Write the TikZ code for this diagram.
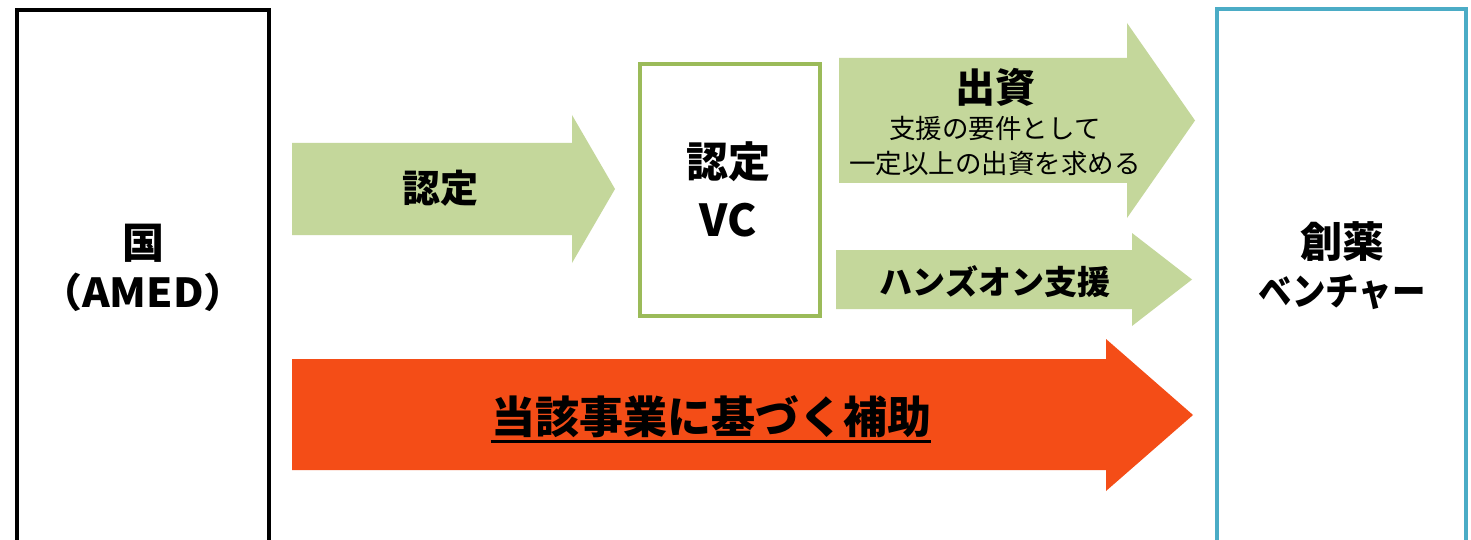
\documentclass[tikz,border=0pt]{standalone}
\usepackage{fontspec}
\setmainfont{Noto Sans CJK JP}
\definecolor{arrowgreen}{HTML}{C4D79B}
\definecolor{vcgreen}{HTML}{9BBB59}
\definecolor{subsidy}{HTML}{F44D17}
\definecolor{ventureblue}{HTML}{4BACC6}
\newcommand\blockarrow[8]{%
  \fill[#1] (#2,#5) -- (#3,#5) -- (#3,#7) -- (#4,{(#7+#8)/2}) -- (#3,#8) -- (#3,#6) -- (#2,#6) -- cycle;}
\tikzset{
  frame/.style={draw, inner sep=0pt, outer sep=0pt, fill=none},
  txt/.style={font=\fontsize{#1}{#1}\selectfont\bfseries, inner sep=0pt},
  smalltext/.style={font=\fontsize{26.5}{30}\selectfont, inner sep=0pt},
}
\begin{document}
\begin{tikzpicture}[x=1pt,y=-1pt]
\useasboundingbox (0,0) rectangle (1471,540);
\clip (0,0) rectangle (1471,540);
\fill[white] (0,0) rectangle (1471,540);
% boxes
\node[frame, draw=black, line width=4pt, minimum width=252pt, minimum height=590pt] (kuni) at (143,305) {};
\node[frame, draw=vcgreen, line width=4pt, minimum width=180pt, minimum height=252pt] (vc) at (729.5,190) {};
\node[frame, draw=ventureblue, line width=3.5pt, minimum width=249pt, minimum height=591pt] (venture) at (1341.5,304.5) {};
% arrows
\blockarrow{arrowgreen}{292}{572}{615}{143}{235}{115}{263}
\blockarrow{arrowgreen}{839}{1127}{1195}{58}{183}{23}{218}
\blockarrow{arrowgreen}{836}{1132}{1192}{250}{309}{233}{326}
\blockarrow{subsidy}{292}{1106}{1193}{359}{470}{339}{491}
% texts
\node[txt=42] (kuni1) at (143,243) {国};
\node[txt=40] (kuni2) at (143,292) {\scalebox{1.05}[1]{（AMED）}};
\node[txt=38] (nintei) at (440,188) {認定};
\node[txt=42] (vc1) at (728,162) {認定};
\node[txt=44] (vc2) at (728,220) {VC};
\node[txt=40] (shusshi) at (995,87) {出資};
\node[smalltext] (cond1) at (995,128) {支援の要件として};
\node[smalltext] (cond2) at (995,163) {一定以上の出資を求める};
\node[txt=33] (handson) at (995,282) {ハンズオン支援};
\node[txt=44] (hojo) at (711,417) {当該事業に基づく補助};
\draw[line width=3pt] ([yshift=-3pt]hojo.south west) -- ([yshift=-3pt]hojo.south east);
\node[txt=42] (ven1) at (1342,242) {創薬};
\node[txt=38] (ven2) at (1342,292) {\scalebox{0.88}[1]{ベンチャー}};
\end{tikzpicture}
\end{document}
